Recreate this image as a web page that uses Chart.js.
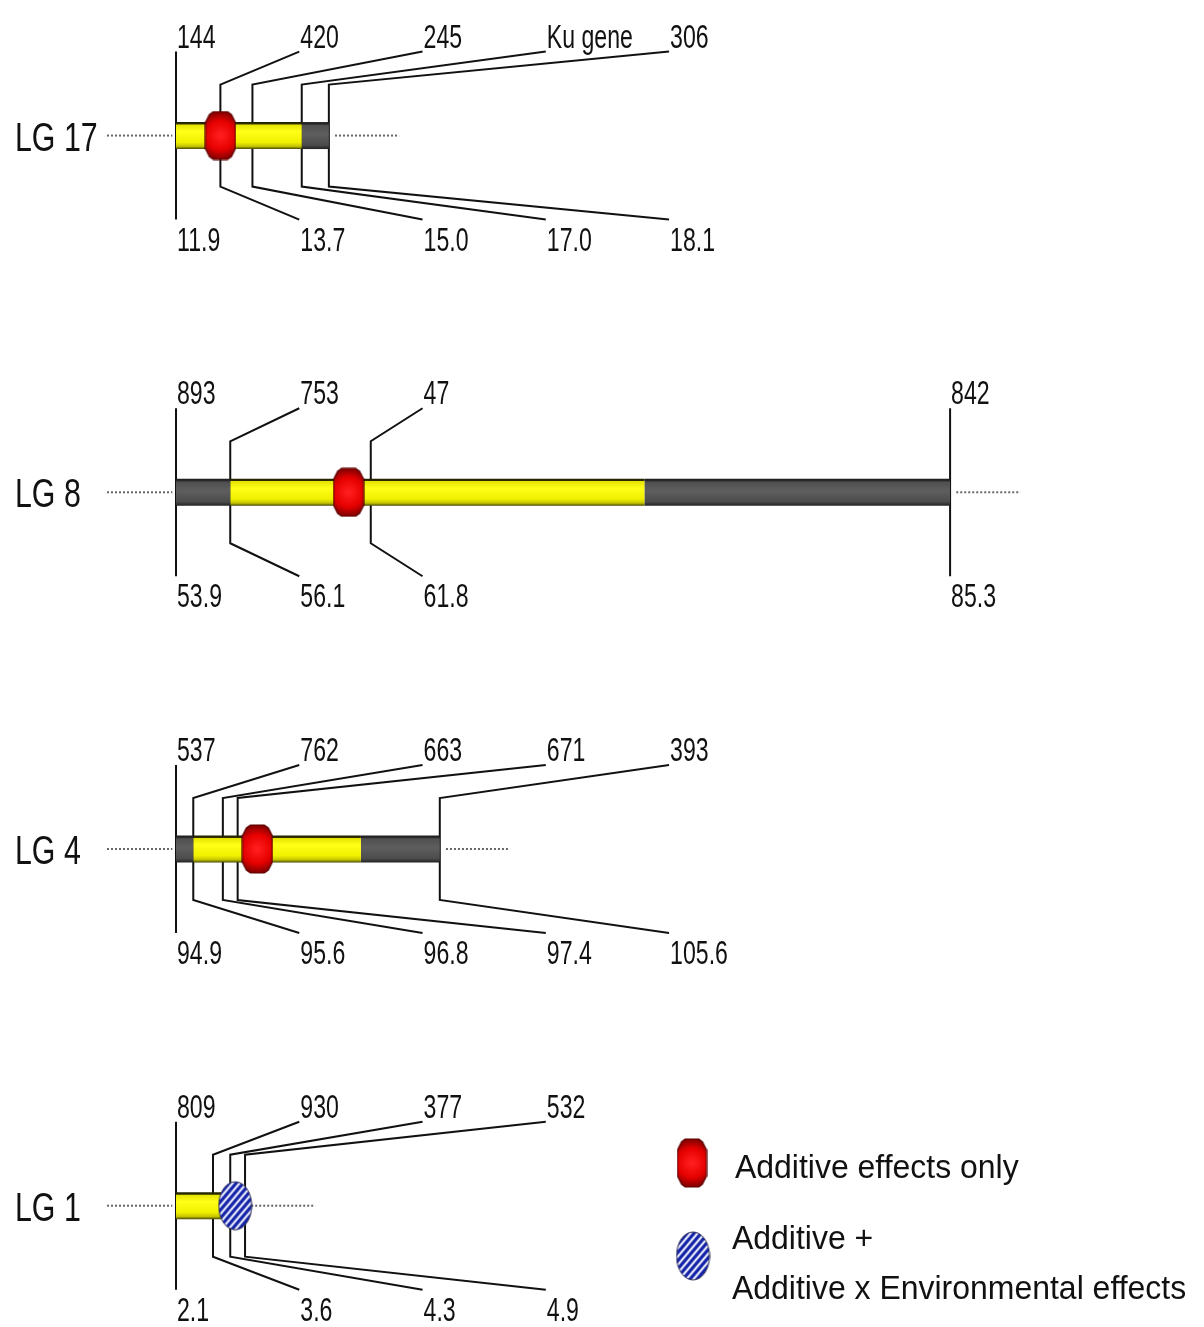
<!DOCTYPE html>
<html lang="en">
<head>
<meta charset="UTF-8">
<title>QTL linkage groups</title>
<script src="https://cdn.jsdelivr.net/npm/chart.js"></script>
<style>
  html, body { margin: 0; padding: 0; background: #fff; }
  #wrap { width: 1204px; height: 1327px; }
</style>
</head>
<body>
<div id="wrap"><canvas id="lgChart" width="1204" height="1327"></canvas></div>
<script>
// linkage groups, top to bottom
const groupNames = ['LG 17', 'LG 8', 'LG 4', 'LG 1'];

// marker names (above the bar) and their positions in cM (below the bar)
const lg17Markers = ['144', '420', '245', 'Ku gene', '306'];
const lg17Pos = [11.9, 13.7, 15.0, 17.0, 18.1];
const lg8Markers = ['893', '753', '47', '842'];
const lg8Pos = [53.9, 56.1, 61.8, 85.3];
const lg4Markers = ['537', '762', '663', '671', '393'];
const lg4Pos = [94.9, 95.6, 96.8, 97.4, 105.6];
const lg1Markers = ['809', '930', '377', '532'];
const lg1Pos = [2.1, 3.6, 4.3, 4.9];

// coloured stretches of each bar: [from cM, to cM, kind]  y = QTL interval, g = rest
const lg17Segments = [[11.9, 17.0, 'y'], [17.0, 18.1, 'g']];
const lg8Segments = [[53.9, 56.1, 'g'], [56.1, 72.9, 'y'], [72.9, 85.3, 'g']];
const lg4Segments = [[94.9, 95.6, 'g'], [95.6, 102.4, 'y'], [102.4, 105.6, 'g']];
const lg1Segments = [[2.1, 4.9, 'y']];

// QTL peaks (row = index in groupNames)
const additiveRows = [0, 1, 2];
const additivePos = [13.7, 60.9, 98.2];
const axeRows = [3];
const axePos = [4.5];

const legendLines = [['Additive effects only'], ['Additive +', 'Additive x Environmental effects']];

// ---- layout ----
const X_MIN = -7.14, X_MAX = 41.70;   // cM from the first marker of a group
const Y_MIN = -0.38, Y_MAX = 3.34;    // rows
const ROW_PX = 1327 / (Y_MAX - Y_MIN);
const SLOT_STEP = 5;                  // cM between label slots
const TICK = 51 / ROW_PX, SLOT = 84 / ROW_PX;
const MARK_FONT = '34px "Liberation Sans", Arial, sans-serif';

const groups = [
  { markers: lg17Markers, pos: lg17Pos, segs: lg17Segments },
  { markers: lg8Markers, pos: lg8Pos, segs: lg8Segments },
  { markers: lg4Markers, pos: lg4Pos, segs: lg4Segments },
  { markers: lg1Markers, pos: lg1Pos, segs: lg1Segments }
];

// label slots: a label sits over its marker unless the previous one is too close
groups.forEach(g => {
  let prev = -Infinity;
  g.slots = g.pos.map((p, i) => {
    const rel = p - g.pos[0];
    const s = i === 0 ? rel : Math.max(rel, prev + SLOT_STEP);
    prev = s;
    return s;
  });
});

function lineSet(points, color, width, order, dash) {
  return {
    data: points, showLine: true, borderColor: color, borderWidth: width,
    borderDash: dash || [], pointRadius: 0, order: order, clip: false
  };
}

function barGradient(chart, row, kind) {
  const ys = chart.scales.y;
  const flat = kind === 'y' ? '#f2f200' : '#555555';
  if (!ys || !chart.chartArea) return flat;
  const c = ys.getPixelForValue(row);
  const gr = chart.ctx.createLinearGradient(0, c - 13.5, 0, c + 13.5);
  if (kind === 'y') {
    gr.addColorStop(0, '#202000'); gr.addColorStop(0.08, '#303000');
    gr.addColorStop(0.1, '#e4e400'); gr.addColorStop(0.35, '#ffff18');
    gr.addColorStop(0.75, '#f0f000'); gr.addColorStop(0.9, '#c4c400');
    gr.addColorStop(1, '#454500');
  } else {
    gr.addColorStop(0, '#1c1c1c'); gr.addColorStop(0.08, '#2a2a2a');
    gr.addColorStop(0.12, '#505050'); gr.addColorStop(0.45, '#5e5e5e');
    gr.addColorStop(0.85, '#4c4c4c'); gr.addColorStop(1, '#222222');
  }
  return gr;
}

function makeRedMark(w, h) {
  const c = document.createElement('canvas');
  c.width = w; c.height = h;
  const g = c.getContext('2d');
  const cx = w / 2;
  g.beginPath();
  g.moveTo(cx - 7, 1); g.lineTo(cx + 7, 1); g.lineTo(w - 5, 4); g.lineTo(w - 1, 12);
  g.lineTo(w - 1, h - 12); g.lineTo(w - 5, h - 4); g.lineTo(cx + 7, h - 1);
  g.lineTo(cx - 7, h - 1); g.lineTo(5, h - 4); g.lineTo(1, h - 12);
  g.lineTo(1, 12); g.lineTo(5, 4); g.closePath();
  const rg = g.createRadialGradient(cx, h / 2, 2, cx, h / 2, h / 2 - 2);
  rg.addColorStop(0, '#ff1c1c'); rg.addColorStop(0.6, '#e60000'); rg.addColorStop(1, '#8a0000');
  g.fillStyle = rg; g.fill();
  g.lineWidth = 1.2; g.strokeStyle = '#5a0000'; g.stroke();
  return c;
}

function makeHatchMark(w, h) {
  const c = document.createElement('canvas');
  c.width = w; c.height = h;
  const g = c.getContext('2d');
  g.beginPath();
  g.ellipse(w / 2, h / 2, w / 2 - 1, h / 2 - 1, 0, 0, Math.PI * 2);
  g.save(); g.clip();
  g.fillStyle = '#eef0ff'; g.fillRect(0, 0, w, h);
  g.strokeStyle = '#1424a8'; g.lineWidth = 3.2;
  for (let k = -h; k < w + h; k += 7) {
    g.beginPath(); g.moveTo(k, h); g.lineTo(k + h * 0.85, 0); g.stroke();
  }
  g.restore();
  g.beginPath();
  g.ellipse(w / 2, h / 2, w / 2 - 1, h / 2 - 1, 0, 0, Math.PI * 2);
  g.strokeStyle = '#2a2a50'; g.lineWidth = 1; g.stroke();
  return c;
}

const redMark = makeRedMark(32, 50);
const hatchMark = makeHatchMark(35, 50);
const redLegend = makeRedMark(31, 50);
const hatchLegend = makeHatchMark(35, 50);

const datasets = [];
groups.forEach((g, row) => {
  const start = g.pos[0];
  const len = g.pos[g.pos.length - 1] - start;
  // dotted stubs on both ends
  datasets.push(lineSet([{ x: -2.8, y: row }, { x: -0.15, y: row }], '#666', 2, 3, [2, 2]));
  datasets.push(lineSet([{ x: len + 0.25, y: row }, { x: len + 2.85, y: row }], '#666', 2, 3, [2, 2]));
  // leader lines from each marker to its label slot
  g.pos.forEach((p, i) => {
    const rel = p - start, s = g.slots[i];
    const pts = s === rel
      ? [{ x: rel, y: row - SLOT }, { x: rel, y: row + SLOT }]
      : [{ x: s, y: row - SLOT }, { x: rel, y: row - TICK }, { x: rel, y: row + TICK }, { x: s, y: row + SLOT }];
    datasets.push(lineSet(pts, '#111', 2, 2));
  });
  // the chromosome bar itself
  g.segs.forEach(seg => {
    const ds = lineSet([{ x: seg[0] - start, y: row }, { x: seg[1] - start, y: row }], '#000', 27, 1);
    ds.borderColor = ctx => barGradient(ctx.chart, row, seg[2]);
    datasets.push(ds);
  });
});

datasets.push({
  label: legendLines[0].join(' '),
  data: additivePos.map((p, i) => ({ x: p - groups[additiveRows[i]].pos[0], y: additiveRows[i] })),
  showLine: false, pointStyle: redMark, pointRadius: 16, order: 0, clip: false
});
datasets.push({
  label: legendLines[1].join(' '),
  data: axePos.map((p, i) => ({ x: p - groups[axeRows[i]].pos[0], y: axeRows[i] })),
  showLine: false, pointStyle: hatchMark, pointRadius: 16, order: 0, clip: false
});

function stretchText(ctx, txt, px, py, font, sx) {
  ctx.save();
  ctx.translate(px, py);
  ctx.scale(sx, 1);
  ctx.font = font;
  ctx.fillText(txt, 0, 0);
  ctx.restore();
}

const labelPlugin = {
  id: 'lgLabels',
  afterDatasetsDraw(chart) {
    const { ctx } = chart;
    const xs = chart.scales.x, ys = chart.scales.y;
    ctx.save();
    ctx.fillStyle = '#111';
    ctx.textAlign = 'left';
    ctx.textBaseline = 'alphabetic';
    groups.forEach((g, row) => {
      const cy = ys.getPixelForValue(row);
      stretchText(ctx, groupNames[row], 15, cy + 15, '41px "Liberation Sans", Arial, sans-serif', 0.74);
      g.slots.forEach((s, i) => {
        const px = xs.getPixelForValue(s) + 1;
        stretchText(ctx, g.markers[i], px, cy - 88, MARK_FONT, 0.68);
        stretchText(ctx, g.pos[i].toFixed(1), px, cy + 115, MARK_FONT, 0.68);
      });
    });
    // legend
    ctx.drawImage(redLegend, 692 - redLegend.width / 2, 1163 - redLegend.height / 2);
    ctx.drawImage(hatchLegend, 693 - hatchLegend.width / 2, 1256 - hatchLegend.height / 2);
    const lf = '34px "Liberation Sans", Arial, sans-serif';
    stretchText(ctx, legendLines[0][0], 735, 1178, lf, 0.94);
    stretchText(ctx, legendLines[1][0], 732, 1249, lf, 0.94);
    stretchText(ctx, legendLines[1][1], 732, 1299, lf, 0.94);
    ctx.restore();
  }
};

new Chart(document.getElementById('lgChart'), {
  type: 'scatter',
  data: { datasets: datasets },
  options: {
    responsive: false,
    animation: false,
    events: [],
    layout: { padding: 0, autoPadding: false },
    plugins: { legend: { display: false }, tooltip: { enabled: false } },
    scales: {
      x: { type: 'linear', min: X_MIN, max: X_MAX, display: false },
      y: { type: 'linear', min: Y_MIN, max: Y_MAX, reverse: true, display: false }
    }
  },
  plugins: [labelPlugin]
});
</script>
</body>
</html>
